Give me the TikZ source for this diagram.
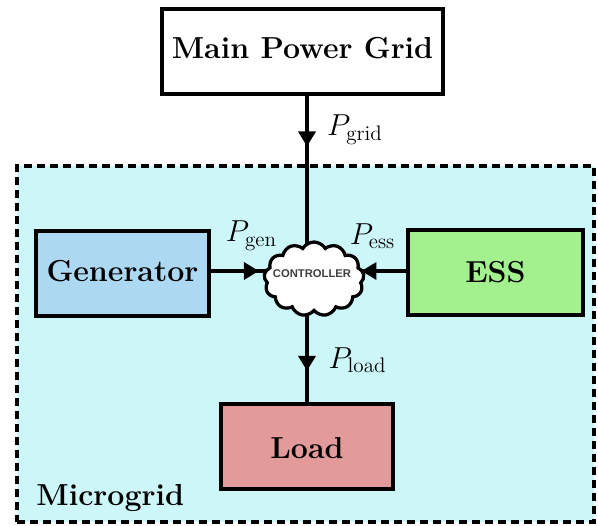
\documentclass[tikz,border=0pt]{standalone}
\usepackage{amsmath}
\usepackage{fontspec}
\newfontfamily\ctrlfont{Liberation Sans}
\usetikzlibrary{positioning,arrows.meta,decorations.markings,shapes.symbols}
\definecolor{gridcyan}{HTML}{CDF6F9}
\definecolor{genblue}{HTML}{ADD8F2}
\definecolor{essgreen}{HTML}{A3F08F}
\definecolor{loadred}{HTML}{E29A9A}
\begin{document}
\begin{tikzpicture}[
  block/.style={rectangle,draw,line width=0.08cm,minimum width=3.45cm,minimum height=1.7cm,font=\LARGE\bfseries},
  ctrl/.style={cloud,draw,fill=white,line width=0.065cm,cloud puffs=13,cloud puff arc=120,aspect=1.35,
    minimum width=2cm,minimum height=1.48cm,inner sep=0pt},
  link/.style={line width=0.08cm,postaction={decorate},
    decoration={markings,mark=at position #1 with {\arrow{Triangle[length=0.3cm,width=0.34cm]}}}},
  flow/.style={font=\LARGE}]
\useasboundingbox (0,0) rectangle (11.96,-10.5);
\node[draw,dashed,dash pattern=on 0.16cm off 0.1cm,line width=0.08cm,fill=gridcyan,
  minimum width=11.54cm,minimum height=7.12cm] (microgrid) at (6.11,-6.88) {};
\node[block,minimum width=5.62cm,text depth=0.12cm] (maingrid) at (6.05,-1.02) {Main Power Grid};
\node[block,fill=genblue,text depth=0.08cm] (generator) at (2.45,-5.46) {Generator};
\node[block,fill=essgreen,minimum width=3.5cm] (ess) at (9.91,-5.45) {ESS};
\node[block,fill=loadred,text height=0.5cm] (load) at (6.14,-8.92) {Load};
\node[font=\LARGE\bfseries,anchor=base west,inner sep=0pt] (mglabel) at (0.72,-10.1) {Microgrid};
\coordinate (hub) at (6.14,-5.42);
\draw[link=.29] (maingrid.south -| hub) -- (hub);
\draw[link=.5] (generator.east |- hub) -- (hub);
\draw[link=.45] (ess.west |- hub) -- (hub);
\draw[link=.765] (hub) -- (load.north);
\node[ctrl] (controller) at (6.28,-5.58) {};
\node[font=\fontsize{6.4}{8}\ctrlfont\bfseries,text=black!75,inner sep=0pt] (ctrllabel) at (6.24,-5.48) {CONTROLLER};
\node[flow] (pgrid) at (7.1,-2.6) {$P_{\text{grid}}$};
\node[flow] (pgen) at (5.03,-4.72) {$P_{\text{gen}}$};
\node[flow] (pess) at (7.45,-4.72) {$P_{\text{ess}}$};
\node[flow] (pload) at (7.15,-7.2) {$P_{\text{load}}$};
\end{tikzpicture}
\end{document}
